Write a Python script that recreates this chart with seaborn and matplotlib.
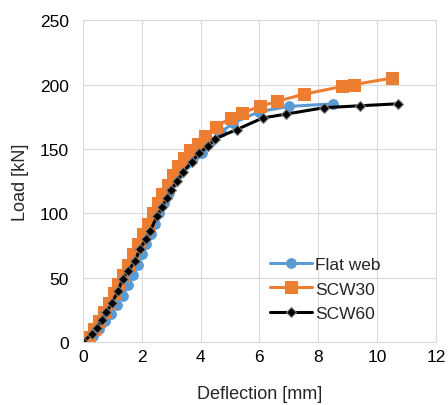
import matplotlib
matplotlib.use('Agg')
import matplotlib.pyplot as plt
import seaborn as sns

# deflection [mm] / load [kN]
flat_x = [0, 0.35, 0.55, 0.75, 0.95, 1.15, 1.35, 1.55, 1.72, 1.88, 2.02, 2.15, 2.3, 2.45, 2.6,
          2.75, 2.92, 3.1, 3.3, 3.5, 3.75, 4.04, 4.32, 4.7, 5.1, 6.0, 7.02, 8.51]
flat_y = [0, 5, 10, 16, 22, 29, 36, 44, 52, 60, 68, 76, 84, 92, 100,
          108, 116, 124, 131, 138, 143, 147, 155, 163, 170, 179, 183, 185]

scw30_x = [0, 0.2, 0.38, 0.55, 0.72, 0.88, 1.05, 1.2, 1.38, 1.55, 1.72, 1.88, 2.05, 2.2, 2.38,
           2.55, 2.7, 2.88, 3.05, 3.25, 3.45, 3.65, 3.9, 4.15, 4.52, 5.02, 5.42, 6.02, 6.61,
           7.52, 8.82, 9.22, 10.52]
scw30_y = [0, 4, 10, 16, 23, 30, 38, 45, 52, 60, 68, 76, 84, 92, 100,
           108, 115, 122, 130, 137, 143, 149, 154, 160, 167, 174, 178, 183, 187,
           192.5, 198.5, 200, 205]

scw60_x = [0, 0.3, 0.47, 0.64, 0.8, 0.98, 1.2, 1.35, 1.54, 1.77, 1.94, 2.14, 2.28, 2.53, 2.7,
           2.85, 3.0, 3.2, 3.41, 3.7, 3.96, 4.26, 4.5, 5.23, 6.11, 6.9, 8.2, 9.42, 10.7]
scw60_y = [0, 6, 11, 17, 23, 30, 40, 49, 55, 63, 72, 80, 86, 98, 105,
           112, 118, 125, 132, 140, 147, 152, 158, 165, 174, 177, 182, 183.5, 185]

sns.set_style('whitegrid', {'grid.color': '#d9d9d9', 'axes.edgecolor': '#d9d9d9'})
plt.rcParams['font.family'] = ['Liberation Sans', 'DejaVu Sans']

fig, ax = plt.subplots(figsize=(4.48, 4.06), dpi=100)
fig.subplots_adjust(left=0.185, right=0.973, top=0.948, bottom=0.155)

sns.lineplot(x=flat_x, y=flat_y, ax=ax, sort=False, color='#5B9BD5', lw=2.2,
             marker='o', markersize=7, markeredgecolor='#5B9BD5', label='Flat web')
sns.lineplot(x=scw30_x, y=scw30_y, ax=ax, sort=False, color='#ED7D31', lw=2.2,
             marker='s', markersize=8, markeredgecolor='#ED7D31', label='SCW30')
sns.lineplot(x=scw60_x, y=scw60_y, ax=ax, sort=False, color='black', lw=2.2,
             marker='D', markersize=5, markeredgecolor='#7f7f7f', markeredgewidth=0.8,
             label='SCW60')

ax.set_xlim(0, 12)
ax.set_ylim(0, 250)
ax.set_xticks(range(0, 13, 2))
ax.set_yticks(range(0, 251, 50))
ax.tick_params(labelsize=12.5, colors='black', length=0)
ax.tick_params(axis='x', pad=5)
ax.tick_params(axis='y', pad=10)
ax.set_xlabel('Deflection [mm]', fontsize=13, labelpad=15)
ax.set_ylabel('Load [kN]', fontsize=13, labelpad=8)

ax.legend(loc='center left', bbox_to_anchor=(0.51, 0.165), frameon=False, fontsize=12.5,
          handlelength=2.4, handletextpad=0.2, labelspacing=0.55, borderaxespad=0)

plt.savefig('out.png', dpi=100)
